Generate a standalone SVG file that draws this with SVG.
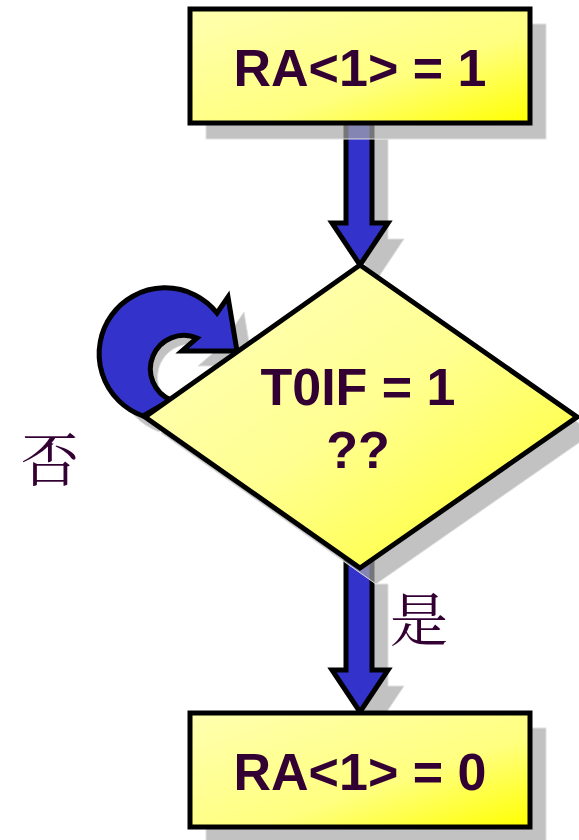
<svg xmlns="http://www.w3.org/2000/svg" width="579" height="840" viewBox="0 0 579 840">
<defs>
<linearGradient id="yg" x1="0" y1="0" x2="1" y2="1">
<stop offset="0" stop-color="#ffffb0"/>
<stop offset="0.6" stop-color="#ffff80"/>
<stop offset="1" stop-color="#ffff00"/>
</linearGradient>
<linearGradient id="dg" x1="0" y1="0" x2="1" y2="1">
<stop offset="0" stop-color="#ffffc0"/>
<stop offset="0.5" stop-color="#ffff90"/>
<stop offset="1" stop-color="#ffff20"/>
</linearGradient>
<style>
.sh{fill:#a8a8a8;fill-opacity:0.7;stroke:#e0e0e0;stroke-width:1}
.node{stroke:#000;stroke-width:5;stroke-linejoin:miter}
.arr{fill:#3333cc;stroke:#000;stroke-width:5;stroke-linejoin:miter}
.t{font-family:"Liberation Sans",Arial,sans-serif;font-weight:bold;fill:#330033;text-anchor:middle}
.c{font-family:"Noto Serif CJK SC","Noto Sans CJK SC",serif;fill:#330033;text-anchor:middle}
</style>
</defs>
<g id="connectors">
<path class="sh" d="M 362,139 L 388,139 L 388,239 L 404,239 L 376,281 L 348,239 L 362,239 Z"/>
<path class="sh" d="M 362,584 L 388,584 L 388,686 L 404,686 L 376,728 L 348,686 L 362,686 Z"/>
<path class="sh" d="M 159,432 A 66,66 0 1,1 233,328 L 244,312 L 253,366 L 198,366 L 213,353 A 33,33 0 1,0 187,410 Z"/>
<path id="arrow1" class="arr" d="M 346,110 L 372,110 L 372,223 L 388,223 L 360,265 L 332,223 L 346,223 Z"/>
<path id="arrow2" class="arr" d="M 346,555 L 372,555 L 372,670 L 388,670 L 360,712 L 332,670 L 346,670 Z"/>
<path id="loop" class="arr" d="M 143,416 A 66,66 0 1,1 217,313 L 228,297 L 237,351 L 182,351 L 197,338 A 33,33 0 1,0 171,400 Z"/>
</g>
<g id="start">
<rect class="sh" x="206" y="24" width="340" height="115"/>
<rect class="node" x="190" y="9" width="340" height="114" fill="url(#yg)"/>
<text class="t" x="360" y="86" font-size="52">RA&lt;1&gt; = 1</text>
</g>
<g id="decision">
<path class="sh" d="M 376,281 L 593,433 L 376,584 L 161,433 Z"/>
<path class="node" d="M 360,265 L 577,417 L 360,568 L 145,417 Z" fill="url(#dg)"/>
<text class="t" x="358" y="405" font-size="52">T0IF = 1</text>
<text class="t" x="358" y="468" font-size="52">??</text>
</g>
<g id="end">
<rect class="sh" x="206" y="728" width="340" height="115"/>
<rect class="node" x="190" y="713" width="340" height="114" fill="url(#yg)"/>
<text class="t" x="360" y="790" font-size="52">RA&lt;1&gt; = 0</text>
</g>
<g id="labels">
<text class="c" x="50" y="481" font-size="58">否</text>
<text class="c" x="419" y="641" font-size="58">是</text>
</g>
</svg>
